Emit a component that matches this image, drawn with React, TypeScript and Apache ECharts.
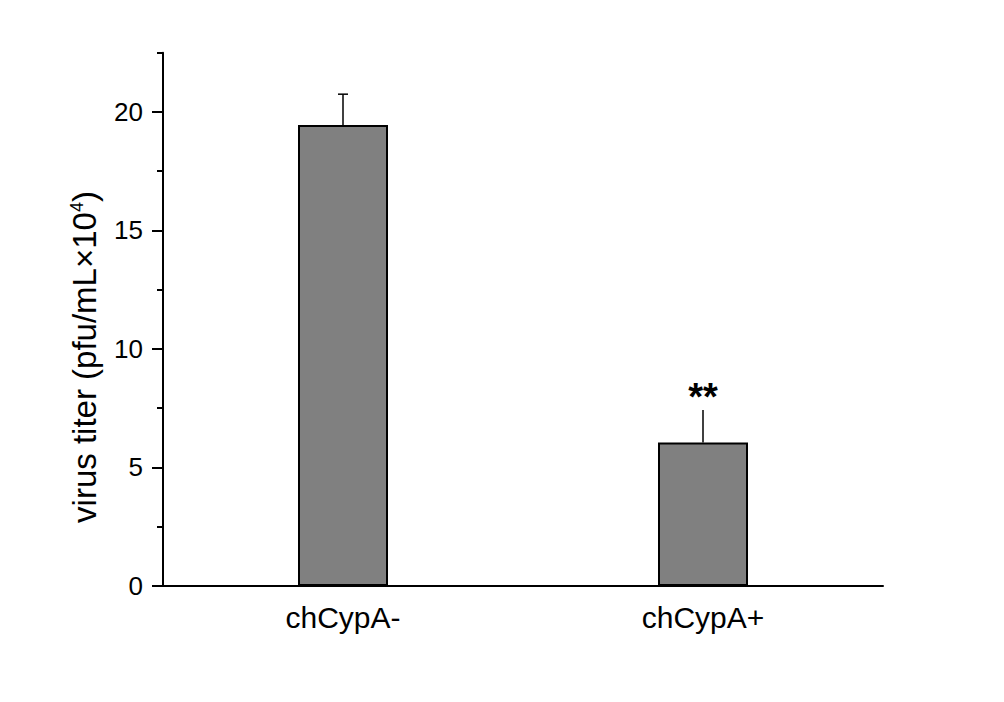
import React, { useEffect, useRef } from "react";
import * as echarts from "echarts";

const categories = ["chCypA-", "chCypA+"];
const values = [19.45, 6.05];
const errors = [1.3, 1.38];
const capWidths = [10, 0];
const marks = ["", "**"];
const majorTicks = [0, 5, 10, 15, 20];
const minorTicks = [2.5, 7.5, 12.5, 17.5, 22.5];
const yAxisTitle = "virus titer (pfu/mL×10{sup|4})";

export default function App() {
  const ref = useRef<HTMLDivElement>(null);
  useEffect(() => {
    document.body.style.margin = "0";
    const chart = echarts.init(ref.current!, null, { renderer: "svg" });
    const font = "Liberation Sans, Arial, sans-serif";
    chart.setOption({
      animation: false,
      backgroundColor: "#ffffff",
      grid: { left: 163, right: 121, top: 52.7, bottom: 116, containLabel: false },
      xAxis: {
        type: "category",
        data: categories,
        axisLine: { lineStyle: { color: "#000", width: 2 } },
        axisTick: { alignWithLabel: true, length: 9, lineStyle: { color: "#000", width: 2 } },
        axisLabel: { color: "#000", fontSize: 30, fontFamily: font, margin: 16 },
        splitLine: { show: false },
      },
      yAxis: [
        {
          type: "value",
          min: 0,
          max: 22.5,
          position: "left",
          axisLine: { show: true, lineStyle: { color: "#000", width: 2 } },
          axisTick: { show: true, customValues: majorTicks, length: 11, lineStyle: { color: "#000", width: 2 } },
          axisLabel: { customValues: majorTicks, color: "#000", fontSize: 26, fontFamily: font, margin: 20 },
          splitLine: { show: false },
        },
        {
          type: "value",
          min: 0,
          max: 22.5,
          position: "left",
          axisLine: { show: false },
          axisTick: { show: true, customValues: minorTicks, length: 6, lineStyle: { color: "#000", width: 2 } },
          axisLabel: { show: false },
          splitLine: { show: false },
        },
      ],
      graphic: [
        {
          type: "text",
          x: 84,
          y: 357,
          rotation: Math.PI / 2,
          style: {
            text: yAxisTitle,
            fill: "#000",
            fontSize: 33,
            fontFamily: font,
            align: "center",
            verticalAlign: "middle",
            rich: {
              sup: { fontSize: 18, verticalAlign: "top", fill: "#000", fontFamily: font },
            },
          },
        },
      ],
      series: [
        {
          type: "bar",
          data: values,
          barWidth: 90,
          itemStyle: { color: "#808080", borderColor: "#000", borderWidth: 2 },
        },
        {
          type: "custom",
          data: values.map((v, i) => [i, v, errors[i]]),
          z: 10,
          renderItem: (params: any, api: any) => {
            const i = api.value(0);
            const v = api.value(1);
            const e = api.value(2);
            const p0 = api.coord([i, v]);
            const p1 = api.coord([i, v + e]);
            const cw = capWidths[params.dataIndex];
            const children: any[] = [
              { type: "line", shape: { x1: p0[0], y1: p0[1], x2: p1[0], y2: p1[1] }, style: { stroke: "#000", lineWidth: 1.5 } },
            ];
            if (cw > 0) {
              children.push({ type: "line", shape: { x1: p1[0] - cw / 2, y1: p1[1], x2: p1[0] + cw / 2, y2: p1[1] }, style: { stroke: "#000", lineWidth: 1.5 } });
            }
            const m = marks[params.dataIndex];
            if (m) {
              children.push({
                type: "text",
                x: p1[0],
                y: p1[1] - 13,
                style: { text: m, fill: "#000", fontSize: 38, fontWeight: "bold", fontFamily: font, align: "center", verticalAlign: "middle" },
              });
            }
            return { type: "group", children };
          },
        },
      ],
    });
    return () => chart.dispose();
  }, []);
  return <div ref={ref} style={{ width: 1004, height: 702 }} />;
}
